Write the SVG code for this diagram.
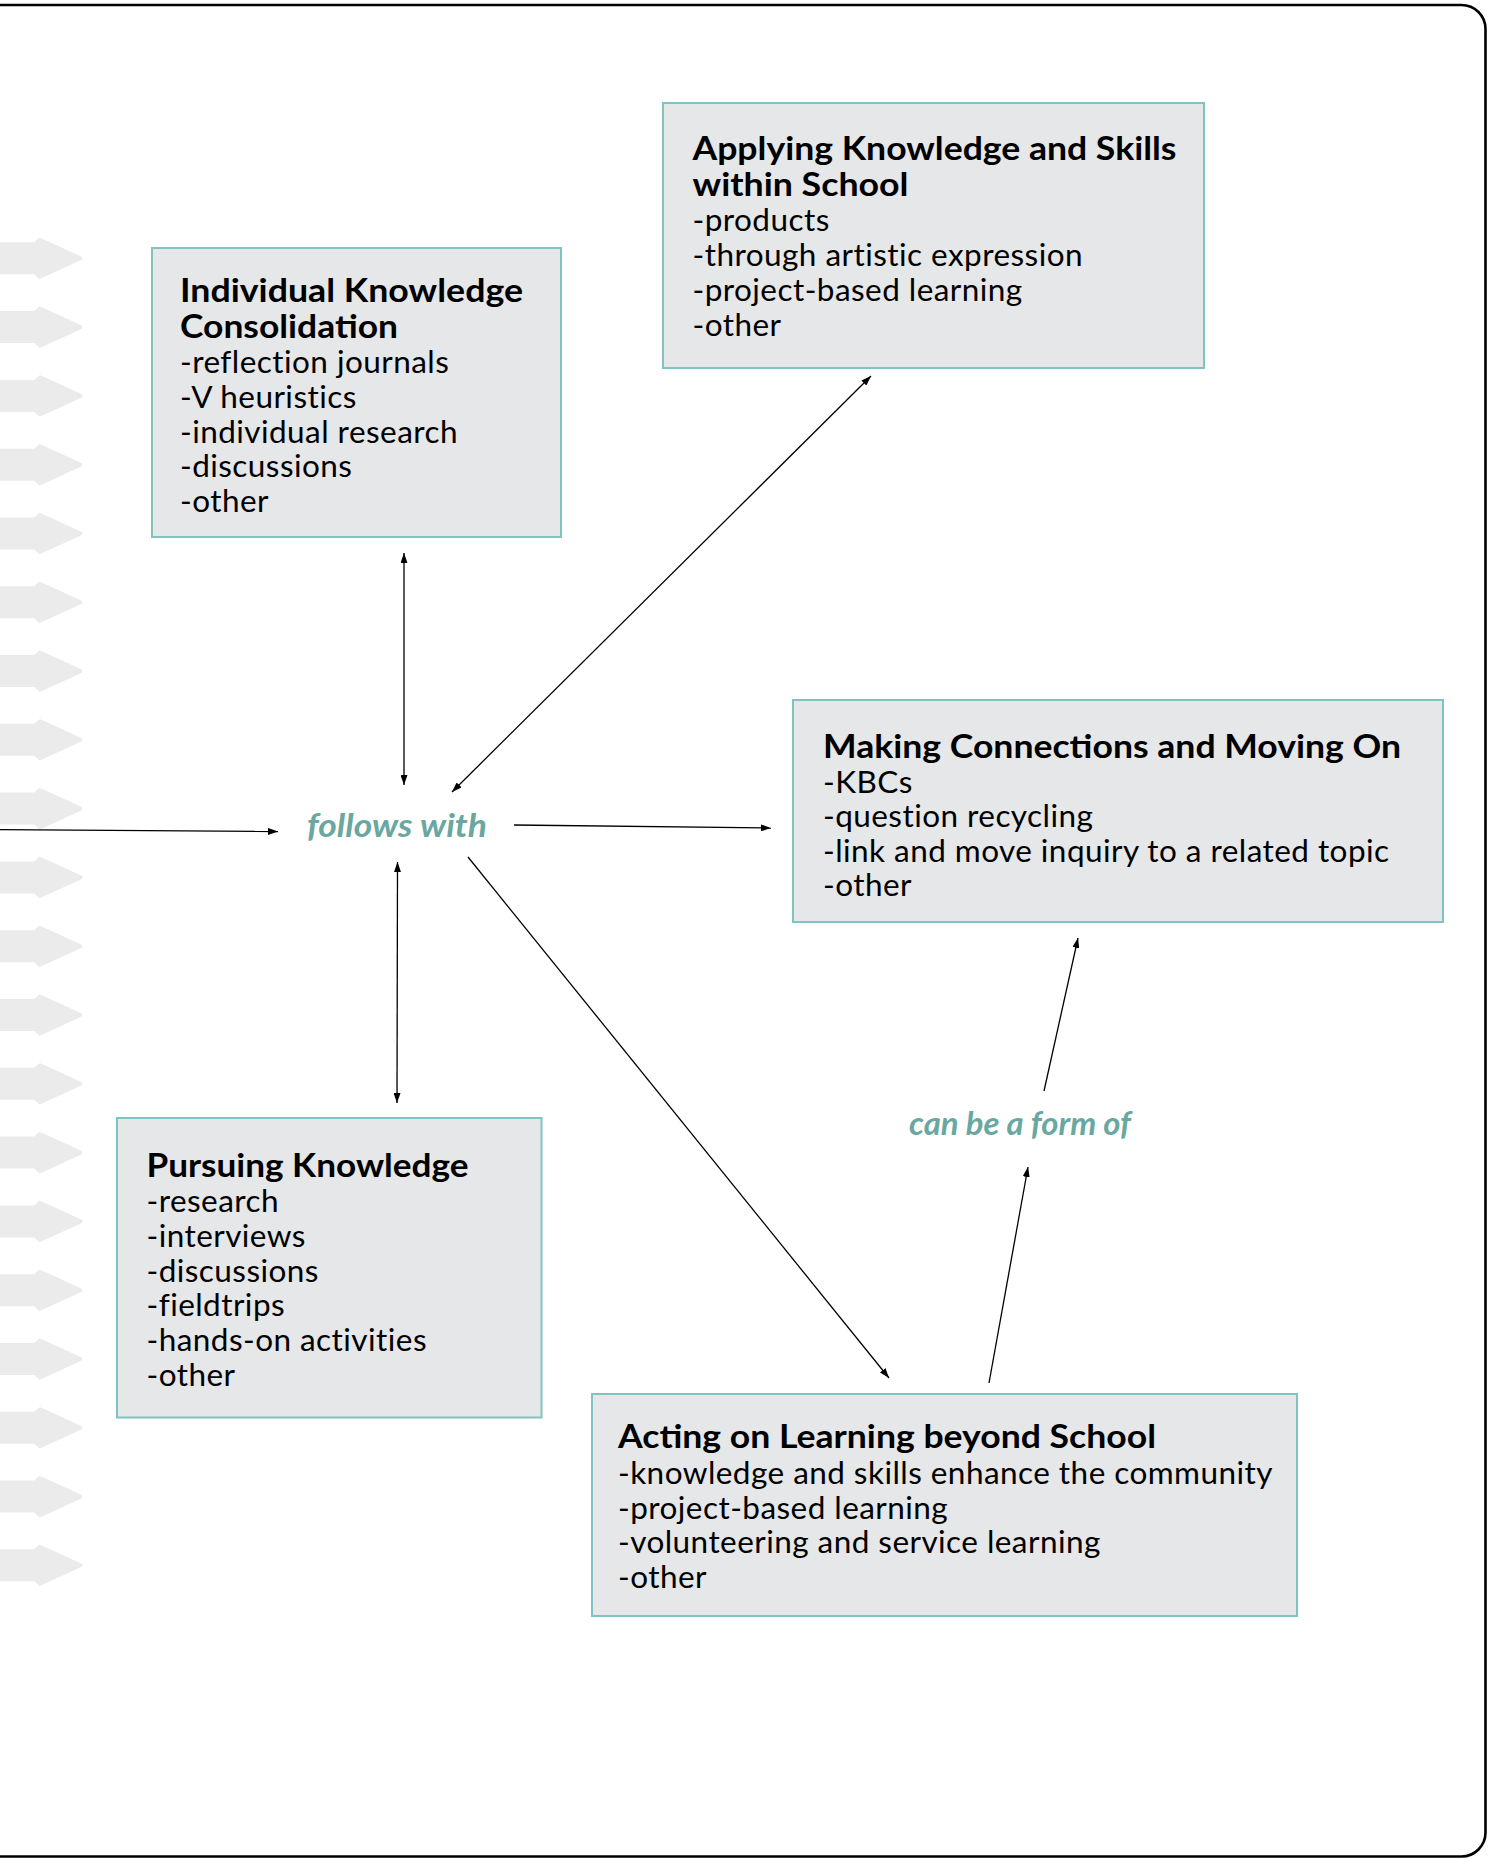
<svg xmlns="http://www.w3.org/2000/svg" width="1488" height="1859" viewBox="0 0 1488 1859">
<style>
.box{fill:#e6e7e8;stroke:#7fc4c2;stroke-width:2}
.tt{font-family:Lato,"Liberation Sans",sans-serif;font-weight:700;font-size:33px;fill:#000}
.t2{font-size:32px}
.tx{font-family:Lato,"Liberation Sans",sans-serif;font-weight:400;font-size:31.5px;letter-spacing:0.45px;fill:#000}
.lb{font-family:Lato,"Liberation Sans",sans-serif;font-weight:700;font-style:italic;font-size:33px;fill:#6aa7a1}
.cn{stroke:#000;stroke-width:1.3;fill:none}
.bg{fill:#ebebeb;stroke:#ebebeb;stroke-width:4;stroke-linejoin:round}
</style>
<defs>
<marker id="ah" viewBox="0 0 10 7" refX="10" refY="3.5" markerWidth="10" markerHeight="7" markerUnits="userSpaceOnUse" orient="auto-start-reverse">
<path d="M0,0 L10,3.5 L0,7 z" fill="#000"/>
</marker>
<path id="chev" d="M-10,-14 L35,-14 L40,-18.5 L80.5,0 L40,18.5 L35,14 L-10,14 z"/>
</defs>
<rect x="-40" y="5" width="1525.5" height="1851.5" rx="24" ry="24" fill="#fff" stroke="#000" stroke-width="2.6"/>
<g id="bg-arrows" class="bg">
<use href="#chev" y="258.3"/><use href="#chev" y="327.1"/><use href="#chev" y="395.9"/><use href="#chev" y="464.7"/>
<use href="#chev" y="533.5"/><use href="#chev" y="602.3"/><use href="#chev" y="671.1"/><use href="#chev" y="739.8"/>
<use href="#chev" y="808.6"/><use href="#chev" y="877.4"/><use href="#chev" y="946.2"/><use href="#chev" y="1015"/>
<use href="#chev" y="1083.8"/><use href="#chev" y="1152.6"/><use href="#chev" y="1221.4"/><use href="#chev" y="1290.2"/>
<use href="#chev" y="1359"/><use href="#chev" y="1427.8"/><use href="#chev" y="1496.6"/><use href="#chev" y="1565.3"/>
</g>
<g id="connectors" class="cn">
<line x1="-10" y1="829.5" x2="278" y2="831.5" marker-end="url(#ah)"/>
<line x1="514" y1="825" x2="771" y2="828" marker-end="url(#ah)"/>
<line x1="404" y1="553" x2="404" y2="785" marker-start="url(#ah)" marker-end="url(#ah)"/>
<line x1="452" y1="792" x2="871" y2="376" marker-start="url(#ah)" marker-end="url(#ah)"/>
<line x1="397.5" y1="862" x2="397" y2="1103" marker-start="url(#ah)" marker-end="url(#ah)"/>
<line x1="468" y1="857" x2="889" y2="1378" marker-end="url(#ah)"/>
<line x1="989" y1="1383" x2="1028" y2="1167" marker-end="url(#ah)"/>
<line x1="1044" y1="1091" x2="1078" y2="938" marker-end="url(#ah)"/>
</g>
<g id="label-follows"><text class="lb" x="307" y="837" textLength="180" lengthAdjust="spacingAndGlyphs">follows with</text></g>
<g id="label-canbe"><text class="lb" x="909" y="1135" textLength="222" lengthAdjust="spacingAndGlyphs">can be a form of</text></g>
<g id="node-individual">
<rect class="box" x="152" y="248" width="409" height="289"/>
<text class="tt t2" x="180" y="301.5" textLength="343" lengthAdjust="spacingAndGlyphs">Individual Knowledge</text>
<text class="tt t2" x="180" y="337.5" textLength="218" lengthAdjust="spacingAndGlyphs">Consolidation</text>
<text class="tx" x="180" y="373">-reflection journals</text>
<text class="tx" x="180" y="407.5">-V heuristics</text>
<text class="tx" x="180" y="442.5">-individual research</text>
<text class="tx" x="180" y="477">-discussions</text>
<text class="tx" x="180" y="511.5">-other</text>
</g>
<g id="node-applying">
<rect class="box" x="663" y="103" width="541" height="265"/>
<text class="tt t2" x="692.5" y="159.5" textLength="484" lengthAdjust="spacingAndGlyphs">Applying Knowledge and Skills</text>
<text class="tt t2" x="692.5" y="195.5" textLength="216" lengthAdjust="spacingAndGlyphs">within School</text>
<text class="tx" x="692.5" y="231">-products</text>
<text class="tx" x="692.5" y="266">-through artistic expression</text>
<text class="tx" x="692.5" y="301">-project-based learning</text>
<text class="tx" x="692.5" y="335.5">-other</text>
</g>
<g id="node-making">
<rect class="box" x="793" y="700" width="650" height="222"/>
<text class="tt" x="823" y="758" textLength="578" lengthAdjust="spacingAndGlyphs">Making Connections and Moving On</text>
<text class="tx" x="823" y="792.5">-KBCs</text>
<text class="tx" x="823" y="827">-question recycling</text>
<text class="tx" x="823" y="861.5">-link and move inquiry to a related topic</text>
<text class="tx" x="823" y="896">-other</text>
</g>
<g id="node-pursuing">
<rect class="box" x="117" y="1118" width="424.5" height="299.5"/>
<text class="tt" x="146.5" y="1177" textLength="322" lengthAdjust="spacingAndGlyphs">Pursuing Knowledge</text>
<text class="tx" x="146.5" y="1211.7">-research</text>
<text class="tx" x="146.5" y="1246.6">-interviews</text>
<text class="tx" x="146.5" y="1281.5">-discussions</text>
<text class="tx" x="146.5" y="1316.4">-fieldtrips</text>
<text class="tx" x="146.5" y="1351.3">-hands-on activities</text>
<text class="tx" x="146.5" y="1386.2">-other</text>
</g>
<g id="node-acting">
<rect class="box" x="592" y="1394" width="705" height="222"/>
<text class="tt" x="618" y="1448" textLength="538" lengthAdjust="spacingAndGlyphs">Acting on Learning beyond School</text>
<text class="tx" x="618" y="1483.5">-knowledge and skills enhance the community</text>
<text class="tx" x="618" y="1518.5">-project-based learning</text>
<text class="tx" x="618" y="1553">-volunteering and service learning</text>
<text class="tx" x="618" y="1587.5">-other</text>
</g>
</svg>
